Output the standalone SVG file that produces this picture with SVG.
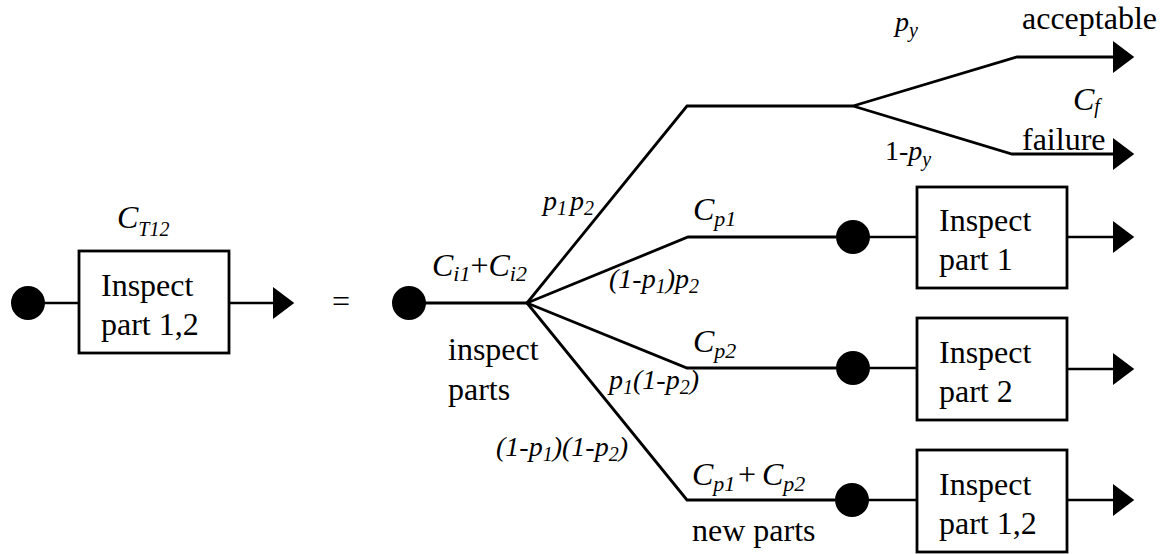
<svg xmlns="http://www.w3.org/2000/svg" width="1173" height="554" viewBox="0 0 1173 554">
<style>
.ln{stroke:#000;stroke-width:2.8;fill:none;stroke-linejoin:miter}
.thin{stroke-width:2.3}
.box{fill:#fff;stroke:#000;stroke-width:2.8}
.dot{fill:#000}
.t{font-family:"Liberation Serif","Times New Roman",serif;font-size:32px;fill:#000}
.it{font-style:italic}
.pl{font-size:28px}
.s{font-size:22px}
.ps{font-size:20px}
</style>
<defs>
<marker id="arr" markerUnits="userSpaceOnUse" markerWidth="22" markerHeight="32" viewBox="0 0 20 30" refX="1" refY="15" orient="auto">
<path d="M0,0 L20,15 L0,30 Z" fill="#000"/>
</marker>
</defs>
<rect width="1173" height="554" fill="#fff"/>

<g id="connectors" class="ln">
<line x1="44" y1="303" x2="79" y2="303" class="thin"/>
<line x1="229" y1="303" x2="274" y2="303" class="thin" marker-end="url(#arr)"/>
<line x1="425" y1="303" x2="527" y2="303"/>
<polyline points="527,303 687,106 853,106"/>
<polyline points="853,106 1017,57 1114,57" marker-end="url(#arr)"/>
<polyline points="853,106 1012,154 1114,154" marker-end="url(#arr)"/>
<polyline points="527,303 688,237 836,237"/>
<line x1="869" y1="237" x2="917" y2="237" class="thin"/>
<line x1="1067" y1="237" x2="1114" y2="237" class="thin" marker-end="url(#arr)"/>
<polyline points="527,303 687,368 836,368"/>
<line x1="869" y1="368" x2="917" y2="368" class="thin"/>
<line x1="1067" y1="369" x2="1114" y2="369" class="thin" marker-end="url(#arr)"/>
<polyline points="527,303 687,500 835,500"/>
<line x1="868" y1="500" x2="917" y2="500" class="thin"/>
<line x1="1067" y1="500" x2="1114" y2="500" class="thin" marker-end="url(#arr)"/>
</g>

<g id="start0"><circle class="dot" cx="28" cy="303" r="17"/></g>
<g id="box0">
<rect class="box" x="79" y="251" width="150" height="102"/>
<text class="t" x="101" y="296">Inspect</text>
<text class="t" x="101" y="335">part 1,2</text>
<text class="t it" x="117" y="228" font-size="29">C<tspan font-size="20" y="236">T12</tspan></text>
</g>
<g id="equals"><text class="t" x="341" y="312" text-anchor="middle">=</text></g>

<g id="start1">
<circle class="dot" cx="409" cy="303" r="17"/>
<text class="t it" x="432" y="276">C<tspan class="s" y="281">i1</tspan><tspan y="276" font-style="normal">+</tspan>C<tspan class="s" y="281">i2</tspan></text>
<text class="t" x="448" y="360">inspect</text>
<text class="t" x="448" y="400">parts</text>
</g>

<g id="branch-labels" class="t it pl">
<text x="543" y="210">p<tspan class="ps" y="215">1</tspan><tspan y="210" dx="3">p</tspan><tspan class="ps" y="215">2</tspan></text>
<text x="609" y="288">(1-p<tspan class="ps" y="293">1</tspan><tspan y="288">)p</tspan><tspan class="ps" y="293">2</tspan></text>
<text x="609" y="389">p<tspan class="ps" y="394">1</tspan><tspan y="389">(1-p</tspan><tspan class="ps" y="394">2</tspan><tspan y="389">)</tspan></text>
<text x="496" y="456">(1-p<tspan class="ps" y="461">1</tspan><tspan y="456">)(1-p</tspan><tspan class="ps" y="461">2</tspan><tspan y="456">)</tspan></text>
<text x="895" y="31">p<tspan class="ps" y="37">y</tspan></text>
<text x="885" y="160"><tspan font-style="normal">1-</tspan>p<tspan class="ps" y="166">y</tspan></text>
</g>

<g id="split">
<text class="t" x="1022" y="29">acceptable</text>
<text class="t it" x="1073" y="110" font-size="30">C<tspan font-size="20" y="113">f</tspan></text>
<text class="t" x="1022" y="150">failure</text>
</g>

<g id="path1">
<text class="t it" x="693" y="220">C<tspan class="s" y="226">p1</tspan></text>
<circle class="dot" cx="853" cy="237" r="17"/>
</g>
<g id="box1">
<rect class="box" x="917" y="187" width="150" height="101"/>
<text class="t" x="939" y="231">Inspect</text>
<text class="t" x="939" y="270">part 1</text>
</g>

<g id="path2">
<text class="t it" x="693" y="352">C<tspan class="s" y="358">p2</tspan></text>
<circle class="dot" cx="853" cy="368" r="17"/>
</g>
<g id="box2">
<rect class="box" x="917" y="318" width="150" height="102"/>
<text class="t" x="939" y="363">Inspect</text>
<text class="t" x="939" y="402">part 2</text>
</g>

<g id="path3">
<text class="t it" x="692" y="485">C<tspan class="s" y="491">p1</tspan><tspan x="738" y="485" font-style="normal">+</tspan><tspan x="762" y="485">C</tspan><tspan class="s" y="491">p2</tspan></text>
<text class="t" x="692" y="541">new parts</text>
<circle class="dot" cx="852" cy="500" r="17"/>
</g>
<g id="box3">
<rect class="box" x="917" y="450" width="150" height="102"/>
<text class="t" x="939" y="495">Inspect</text>
<text class="t" x="939" y="534">part 1,2</text>
</g>
</svg>
